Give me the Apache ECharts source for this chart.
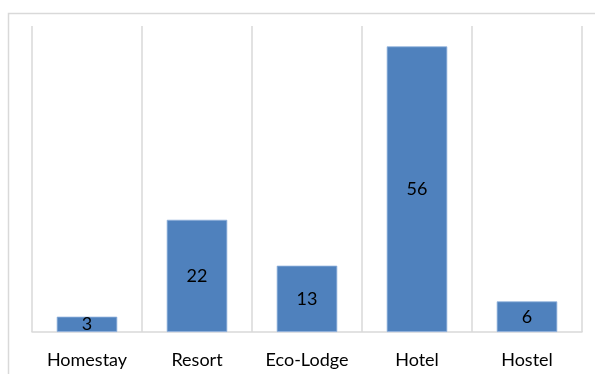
<!DOCTYPE html>
<html>
<head>
<meta charset="utf-8">
<script src="https://cdn.jsdelivr.net/npm/echarts@6/dist/echarts.min.js"></script>
<style>
  html, body { margin: 0; padding: 0; background: #fff; }
  #chart { width: 595px; height: 374px; }
</style>
</head>
<body>
<div id="chart"></div>
<script>
// Accommodation types and their counts
const categories = ['Homestay', 'Resort', 'Eco-Lodge', 'Hotel', 'Hostel'];
const counts = [3, 22, 13, 56, 6];

const chart = echarts.init(document.getElementById('chart'), null, { renderer: 'canvas' });

chart.setOption({
  animation: false,
  backgroundColor: '#ffffff',
  textStyle: { fontFamily: 'Lato, "Open Sans", sans-serif' },
  graphic: [{
    type: 'rect',
    shape: { x: 8.5, y: 13.5, width: 700, height: 500 },
    style: { fill: 'none', stroke: '#d9d9d9', lineWidth: 1.5 },
    silent: true
  }],
  grid: { left: 32, right: 13, top: 26, bottom: 42 },
  xAxis: {
    type: 'category',
    data: categories,
    boundaryGap: true,
    axisLine: { show: true, lineStyle: { color: '#d9d9d9', width: 1.5 } },
    axisTick: { show: false },
    axisLabel: { color: '#000000', fontSize: 18, margin: 19, fontFamily: 'Lato, sans-serif' },
    splitLine: { show: true, lineStyle: { color: '#d9d9d9', width: 1.5 } }
  },
  yAxis: {
    type: 'value',
    min: 0,
    max: 60,
    show: false,
    splitLine: { show: false }
  },
  series: [{
    type: 'bar',
    data: counts,
    barWidth: '55%',
    itemStyle: { color: '#4f81bd', borderColor: '#8eb0dc', borderWidth: 0.8 },
    label: {
      show: true,
      position: 'inside',
      color: '#000000',
      fontSize: 18,
      fontFamily: 'Lato, sans-serif'
    }
  }]
});
</script>
</body>
</html>
